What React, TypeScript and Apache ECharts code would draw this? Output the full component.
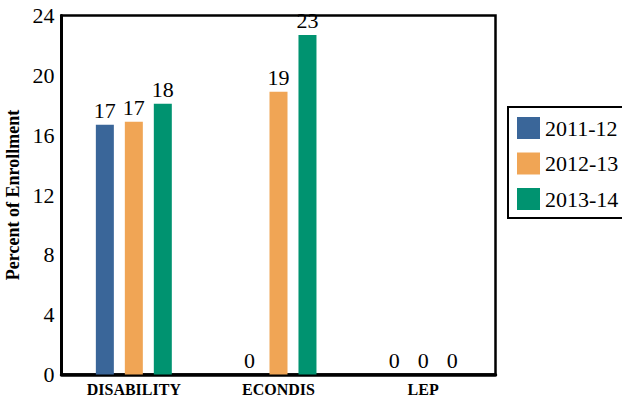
import React, { useEffect, useRef } from "react";
import * as echarts from "echarts";

const categories = ["DISABILITY", "ECONDIS", "LEP"];
const seriesNames = ["2011-12", "2012-13", "2013-14"];
const values2011 = [16.7, 0, 0];
const values2012 = [16.9, 18.9, 0];
const values2013 = [18.1, 22.7, 0];
const colors = ["#3a6699", "#f0a555", "#009370"];
const yTicks = { min: 0, max: 24, interval: 4 };

const FONT = "Liberation Serif";

export default function App() {
  const ref = useRef<HTMLDivElement>(null);
  useEffect(() => {
    if (!ref.current) return;
    const chart = echarts.init(ref.current, undefined, { renderer: "svg" });
    const data = [values2011, values2012, values2013];
    chart.setOption({
      animation: false,
      grid: {
        left: 61.5,
        right: 126.5,
        top: 15.5,
        bottom: 23.5,
        show: true,
        borderColor: "#000",
        borderWidth: 2.5,
        containLabel: false,
        outerBoundsMode: "none",
      },
      legend: {
        orient: "vertical",
        left: 508,
        top: 107,
        padding: [10, 40, 8, 9],
        itemWidth: 23,
        itemHeight: 22,
        itemGap: 13.5,
        borderColor: "#000",
        borderWidth: 2,
        icon: "rect",
        textStyle: { fontFamily: FONT, fontSize: 22, color: "#000" },
        data: seriesNames,
      },
      xAxis: {
        type: "category",
        data: categories,
        axisLine: { lineStyle: { color: "#000", width: 3.5 } },
        axisTick: { show: false },
        axisLabel: {
          fontFamily: FONT,
          fontWeight: "bold",
          fontSize: 16,
          color: "#000",
          margin: 7,
        },
      },
      yAxis: {
        type: "value",
        min: yTicks.min,
        max: yTicks.max,
        interval: yTicks.interval,
        name: "Percent of Enrollment",
        nameLocation: "middle",
        nameRotate: 90,
        nameGap: 36,
        nameTextStyle: {
          fontFamily: FONT,
          fontWeight: "bold",
          fontSize: 18,
          color: "#000",
        },
        axisLine: { show: true, lineStyle: { color: "#000", width: 3 } },
        axisTick: { show: false },
        splitLine: { show: false },
        axisLabel: { fontFamily: FONT, fontSize: 22, color: "#000", margin: 7 },
      },
      series: seriesNames.map((name, i) => ({
        name,
        type: "bar",
        data: data[i],
        barWidth: 18,
        barGap: "61%",
        itemStyle: { color: colors[i] },
        label: {
          show: true,
          position: "top",
          distance: 3,
          fontFamily: FONT,
          fontSize: 22,
          color: "#000",
          formatter: (p: any) => String(Math.round(p.value)),
        },
      })),
    });
    return () => chart.dispose();
  }, []);
  return <div ref={ref} style={{ width: 622, height: 398, position: "absolute", left: 0, top: 0 }} />;
}
